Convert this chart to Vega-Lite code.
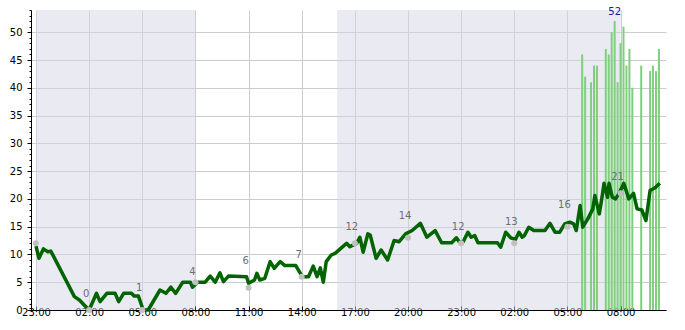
{
  "$schema": "https://vega.github.io/schema/vega-lite/v6.json",
  "width": 635,
  "height": 300,
  "autosize": "none",
  "padding": {"left": 31, "top": 10, "right": 19, "bottom": 20},
  "config": {
    "font": "DejaVu Sans",
    "view": {"stroke": null},
    "axis": {
      "domainColor": "#000000",
      "tickColor": "#000000",
      "labelColor": "#000000",
      "labelFontSize": 10,
      "gridColor": "#cccccc",
      "gridWidth": 1,
      "title": null
    }
  },
  "datasets": {
    "night": [
      {"s": "2024-01-10T23:00", "e": "2024-01-11T08:00"},
      {"s": "2024-01-11T16:00", "e": "2024-01-12T08:00"}
    ],
    "line": [
      {"t": "2024-01-10T23:00", "v": 11.5},
      {"t": "2024-01-10T23:10", "v": 9.3},
      {"t": "2024-01-10T23:25", "v": 11},
      {"t": "2024-01-10T23:40", "v": 10.5},
      {"t": "2024-01-10T23:50", "v": 10.6},
      {"t": "2024-01-11T00:00", "v": 9.6},
      {"t": "2024-01-11T01:10", "v": 2.4},
      {"t": "2024-01-11T01:27", "v": 1.8},
      {"t": "2024-01-11T01:43", "v": 0.9},
      {"t": "2024-01-11T02:00", "v": 0},
      {"t": "2024-01-11T02:25", "v": 3},
      {"t": "2024-01-11T02:37", "v": 1.5},
      {"t": "2024-01-11T03:00", "v": 3},
      {"t": "2024-01-11T03:28", "v": 3},
      {"t": "2024-01-11T03:40", "v": 1.5},
      {"t": "2024-01-11T03:57", "v": 3},
      {"t": "2024-01-11T04:23", "v": 3},
      {"t": "2024-01-11T04:33", "v": 2.5},
      {"t": "2024-01-11T04:47", "v": 2.5},
      {"t": "2024-01-11T05:03", "v": 0},
      {"t": "2024-01-11T05:20", "v": 0},
      {"t": "2024-01-11T06:00", "v": 3.6},
      {"t": "2024-01-11T06:20", "v": 3},
      {"t": "2024-01-11T06:37", "v": 4.1},
      {"t": "2024-01-11T06:53", "v": 3},
      {"t": "2024-01-11T07:17", "v": 5},
      {"t": "2024-01-11T07:43", "v": 5},
      {"t": "2024-01-11T07:50", "v": 4.1},
      {"t": "2024-01-11T08:07", "v": 5},
      {"t": "2024-01-11T08:33", "v": 5},
      {"t": "2024-01-11T08:50", "v": 6.1},
      {"t": "2024-01-11T09:07", "v": 5},
      {"t": "2024-01-11T09:23", "v": 6.7},
      {"t": "2024-01-11T09:35", "v": 5.1},
      {"t": "2024-01-11T09:52", "v": 6.1},
      {"t": "2024-01-11T10:53", "v": 6},
      {"t": "2024-01-11T11:00", "v": 4.8},
      {"t": "2024-01-11T11:20", "v": 5.4},
      {"t": "2024-01-11T11:28", "v": 6.6},
      {"t": "2024-01-11T11:38", "v": 5.4},
      {"t": "2024-01-11T11:55", "v": 5.7},
      {"t": "2024-01-11T12:13", "v": 8.7},
      {"t": "2024-01-11T12:27", "v": 7.5},
      {"t": "2024-01-11T12:47", "v": 8.7},
      {"t": "2024-01-11T13:03", "v": 8},
      {"t": "2024-01-11T13:40", "v": 8},
      {"t": "2024-01-11T14:02", "v": 6},
      {"t": "2024-01-11T14:23", "v": 6},
      {"t": "2024-01-11T14:39", "v": 7.9},
      {"t": "2024-01-11T14:52", "v": 6},
      {"t": "2024-01-11T15:03", "v": 7.6},
      {"t": "2024-01-11T15:13", "v": 5},
      {"t": "2024-01-11T15:23", "v": 8.7},
      {"t": "2024-01-11T15:40", "v": 9.9},
      {"t": "2024-01-11T15:53", "v": 10.2},
      {"t": "2024-01-11T16:32", "v": 12},
      {"t": "2024-01-11T16:43", "v": 11.4},
      {"t": "2024-01-11T17:06", "v": 12},
      {"t": "2024-01-11T17:17", "v": 13.1},
      {"t": "2024-01-11T17:28", "v": 10.4},
      {"t": "2024-01-11T17:44", "v": 13.7},
      {"t": "2024-01-11T17:52", "v": 13.5},
      {"t": "2024-01-11T18:12", "v": 9.3},
      {"t": "2024-01-11T18:29", "v": 10.8},
      {"t": "2024-01-11T18:51", "v": 9},
      {"t": "2024-01-11T19:13", "v": 12.5},
      {"t": "2024-01-11T19:30", "v": 12.3},
      {"t": "2024-01-11T19:52", "v": 13.7},
      {"t": "2024-01-11T20:14", "v": 14.3},
      {"t": "2024-01-11T20:42", "v": 15.6},
      {"t": "2024-01-11T21:04", "v": 13.1},
      {"t": "2024-01-11T21:32", "v": 14.3},
      {"t": "2024-01-11T21:54", "v": 12.1},
      {"t": "2024-01-11T22:28", "v": 12.1},
      {"t": "2024-01-11T22:44", "v": 13},
      {"t": "2024-01-11T22:56", "v": 12.1},
      {"t": "2024-01-11T23:07", "v": 12.3},
      {"t": "2024-01-11T23:23", "v": 14},
      {"t": "2024-01-11T23:34", "v": 13.1},
      {"t": "2024-01-11T23:46", "v": 13.4},
      {"t": "2024-01-11T23:57", "v": 12.1},
      {"t": "2024-01-12T01:03", "v": 12.1},
      {"t": "2024-01-12T01:14", "v": 11.3},
      {"t": "2024-01-12T01:31", "v": 14},
      {"t": "2024-01-12T01:48", "v": 13},
      {"t": "2024-01-12T02:04", "v": 12.7},
      {"t": "2024-01-12T02:16", "v": 14},
      {"t": "2024-01-12T02:27", "v": 13.1},
      {"t": "2024-01-12T02:34", "v": 13.4},
      {"t": "2024-01-12T02:49", "v": 14.9},
      {"t": "2024-01-12T03:06", "v": 14.3},
      {"t": "2024-01-12T03:44", "v": 14.3},
      {"t": "2024-01-12T04:01", "v": 15.6},
      {"t": "2024-01-12T04:18", "v": 14},
      {"t": "2024-01-12T04:34", "v": 14},
      {"t": "2024-01-12T04:51", "v": 15.5},
      {"t": "2024-01-12T05:08", "v": 15.8},
      {"t": "2024-01-12T05:21", "v": 15.5},
      {"t": "2024-01-12T05:30", "v": 14.3},
      {"t": "2024-01-12T05:43", "v": 18.8},
      {"t": "2024-01-12T05:52", "v": 14.9},
      {"t": "2024-01-12T06:09", "v": 16.4},
      {"t": "2024-01-12T06:26", "v": 18.2},
      {"t": "2024-01-12T06:33", "v": 20.6},
      {"t": "2024-01-12T06:48", "v": 17.3},
      {"t": "2024-01-12T06:59", "v": 20.9},
      {"t": "2024-01-12T07:04", "v": 22.8},
      {"t": "2024-01-12T07:16", "v": 20.3},
      {"t": "2024-01-12T07:21", "v": 22.8},
      {"t": "2024-01-12T07:32", "v": 20.3},
      {"t": "2024-01-12T07:43", "v": 20},
      {"t": "2024-01-12T07:54", "v": 20.9},
      {"t": "2024-01-12T08:11", "v": 22.8},
      {"t": "2024-01-12T08:28", "v": 20},
      {"t": "2024-01-12T08:44", "v": 21},
      {"t": "2024-01-12T08:56", "v": 18.2},
      {"t": "2024-01-12T09:12", "v": 18},
      {"t": "2024-01-12T09:26", "v": 16.1},
      {"t": "2024-01-12T09:40", "v": 21.5},
      {"t": "2024-01-12T09:57", "v": 22},
      {"t": "2024-01-12T10:13", "v": 22.8}
    ],
    "bars": [
      {"t": "2024-01-12T05:50", "v": 46},
      {"t": "2024-01-12T06:00", "v": 42},
      {"t": "2024-01-12T06:20", "v": 41},
      {"t": "2024-01-12T06:30", "v": 44},
      {"t": "2024-01-12T06:40", "v": 44},
      {"t": "2024-01-12T07:10", "v": 47},
      {"t": "2024-01-12T07:20", "v": 46},
      {"t": "2024-01-12T07:30", "v": 50},
      {"t": "2024-01-12T07:40", "v": 52},
      {"t": "2024-01-12T07:50", "v": 41},
      {"t": "2024-01-12T08:00", "v": 48},
      {"t": "2024-01-12T08:10", "v": 51},
      {"t": "2024-01-12T08:20", "v": 44},
      {"t": "2024-01-12T08:30", "v": 47},
      {"t": "2024-01-12T08:40", "v": 40},
      {"t": "2024-01-12T09:10", "v": 44},
      {"t": "2024-01-12T09:40", "v": 43},
      {"t": "2024-01-12T09:50", "v": 44},
      {"t": "2024-01-12T10:00", "v": 43},
      {"t": "2024-01-12T10:10", "v": 47}
    ],
    "pts": [
      {"t": "2024-01-10T23:00", "v": 12, "label": null},
      {"t": "2024-01-11T02:00", "v": 0, "label": 0},
      {"t": "2024-01-11T05:00", "v": 0, "label": 1},
      {"t": "2024-01-11T08:00", "v": 5, "label": 4},
      {"t": "2024-01-11T11:00", "v": 4, "label": 6},
      {"t": "2024-01-11T14:00", "v": 6, "label": 7},
      {"t": "2024-01-11T17:00", "v": 12, "label": 12},
      {"t": "2024-01-11T20:00", "v": 13, "label": 14},
      {"t": "2024-01-11T23:00", "v": 12, "label": 12},
      {"t": "2024-01-12T02:00", "v": 12, "label": 13},
      {"t": "2024-01-12T05:00", "v": 15, "label": 16},
      {"t": "2024-01-12T08:00", "v": 21, "label": 21}
    ]
  },
  "encoding": {
    "x": {
      "field": "t",
      "type": "temporal",
      "scale": {
        "domain": [
          {"year": 2024, "month": 1, "date": 10, "hours": 23},
          {"year": 2024, "month": 1, "date": 12, "hours": 10, "minutes": 17}
        ]
      },
      "axis": {
        "format": "%H:%M",
        "values": [
          {"year": 2024, "month": 1, "date": 10, "hours": 23},
          {"year": 2024, "month": 1, "date": 11, "hours": 2},
          {"year": 2024, "month": 1, "date": 11, "hours": 5},
          {"year": 2024, "month": 1, "date": 11, "hours": 8},
          {"year": 2024, "month": 1, "date": 11, "hours": 11},
          {"year": 2024, "month": 1, "date": 11, "hours": 14},
          {"year": 2024, "month": 1, "date": 11, "hours": 17},
          {"year": 2024, "month": 1, "date": 11, "hours": 20},
          {"year": 2024, "month": 1, "date": 11, "hours": 23},
          {"year": 2024, "month": 1, "date": 12, "hours": 2},
          {"year": 2024, "month": 1, "date": 12, "hours": 5},
          {"year": 2024, "month": 1, "date": 12, "hours": 8}
        ],
        "labelAngle": 0,
        "labelFlush": false,
        "labelOverlap": false,
        "tickSize": -4,
        "labelPadding": 1,
        "grid": true
      }
    }
  },
  "layer": [
    {
      "data": {"name": "night"},
      "mark": {"type": "rect", "color": "#d5d5e5", "opacity": 0.5},
      "encoding": {
        "x": {"field": "s", "type": "temporal"},
        "x2": {"field": "e"}
      }
    },
    {
      "data": {"name": "bars"},
      "mark": {"type": "bar", "color": "#7fcf7f", "width": 2},
      "encoding": {
        "y": {
          "field": "v",
          "type": "quantitative",
          "scale": {"domain": [0, 54], "nice": false},
          "axis": {
            "orient": "left",
            "values": [0,1,2,3,4,5,6,7,8,9,10,11,12,13,14,15,16,17,18,19,20,21,22,23,24,25,26,27,28,29,30,31,32,33,34,35,36,37,38,39,40,41,42,43,44,45,46,47,48,49,50,51,52,53,54],
            "labels": false,
            "grid": false,
            "domain": false,
            "tickSize": 2
          }
        }
      }
    },
    {
      "data": {"name": "line"},
      "mark": {"type": "line", "color": "#006400", "strokeWidth": 3.5, "strokeJoin": "round"},
      "encoding": {
        "y": {
          "field": "v",
          "type": "quantitative",
          "axis": {
            "orient": "left",
            "values": [0, 5, 10, 15, 20, 25, 30, 35, 40, 45, 50],
            "tickSize": 4,
            "labelPadding": 5,
            "grid": true
          }
        }
      }
    },
    {
      "data": {"name": "pts"},
      "mark": {"type": "circle", "color": "#c0c0c0", "opacity": 1, "size": 36},
      "encoding": {
        "y": {"field": "v", "type": "quantitative", "axis": null}
      }
    },
    {
      "data": {"name": "pts"},
      "mark": {"type": "text", "color": "#6e6e6e", "fontSize": 10, "dx": -3, "dy": -16, "align": "center", "baseline": "middle"},
      "encoding": {
        "y": {"field": "label", "type": "quantitative", "axis": null},
        "text": {"field": "label", "type": "quantitative"}
      }
    },
    {
      "data": {"name": "bars"},
      "transform": [
        {"joinaggregate": [{"op": "max", "field": "v", "as": "vmax"}]},
        {"filter": "datum.v === datum.vmax"}
      ],
      "mark": {"type": "text", "color": "#1a1a8a", "fontSize": 10, "dy": -9, "align": "center", "baseline": "middle"},
      "encoding": {
        "y": {"field": "v", "type": "quantitative", "axis": null},
        "text": {"field": "v", "type": "quantitative"}
      }
    }
  ],
  "resolve": {"axis": {"y": "independent"}}
}
